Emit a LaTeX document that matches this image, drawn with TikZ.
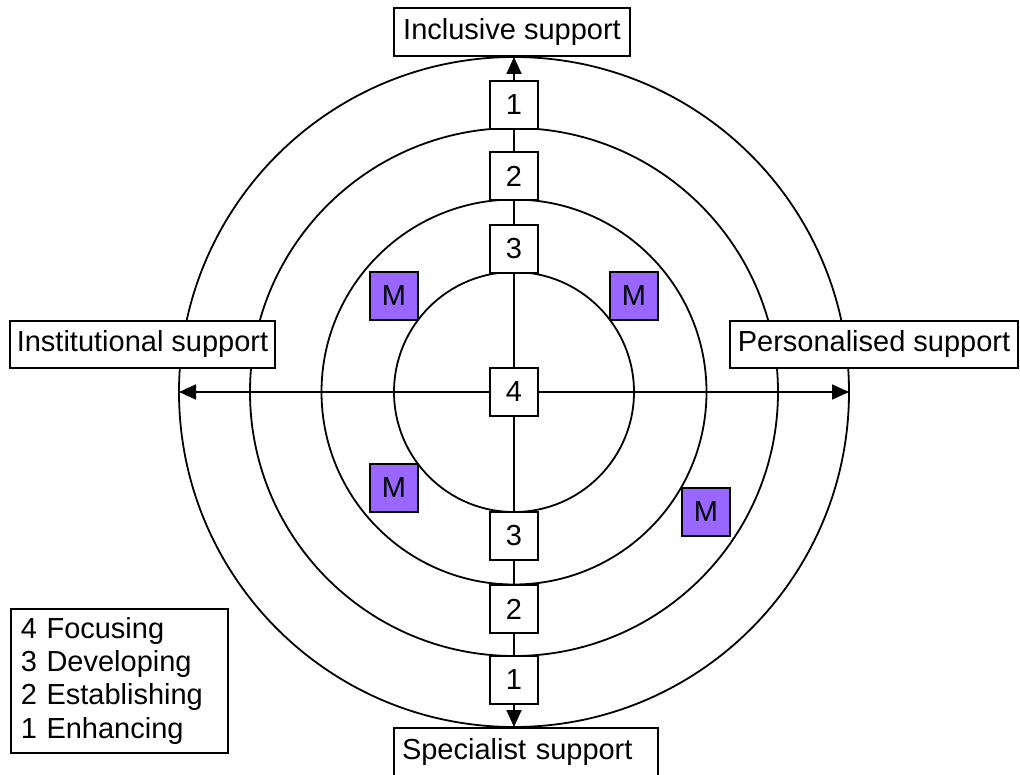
\documentclass[tikz,border=0pt]{standalone}
\usepackage{fontspec}
\setmainfont{Liberation Sans}
\usetikzlibrary{arrows.meta}
\definecolor{mpurple}{HTML}{9966FF}
\begin{document}
\begin{tikzpicture}[x=1pt,y=-1pt,
  ring/.style={draw, circle, line width=1.8pt, inner sep=0pt, outer sep=0pt},
  axisarrow/.style={line width=1.8pt, -{Triangle[length=17pt,width=15pt]}},
  numbox/.style={draw, fill=white, line width=1.5pt, minimum width=48pt, minimum height=48pt, inner sep=0pt, font=\fontsize{29}{33}\selectfont},
  mbox/.style={numbox, fill=mpurple},
  labelbox/.style={draw, fill=white, line width=1.5pt, minimum height=47pt, inner sep=0pt, font=\fontsize{29}{33}\selectfont},
]
\useasboundingbox (0,0) rectangle (1020,775);
% rings
\node[ring, minimum size=670pt] (c1) at (514,392) {};
\node[ring, minimum size=528pt] (c2) at (514,392) {};
\node[ring, minimum size=385pt] (c3) at (514,392) {};
\node[ring, minimum size=240pt] (c4) at (514,392) {};
% axes
\draw[axisarrow] (c1.center) -- (c1.north);
\draw[axisarrow] (c1.center) -- (c1.south);
\draw[axisarrow] (c1.center) -- (c1.west);
\draw[axisarrow] (c1.center) -- (c1.east);
% number boxes
\node[numbox] (n1t) at (514,105) {1};
\node[numbox] (n2t) at (514,176) {2};
\node[numbox] (n3t) at (514,249) {3};
\node[numbox] (n4)  at (514,392) {4};
\node[numbox] (n3b) at (514,536) {3};
\node[numbox] (n2b) at (514,609) {2};
\node[numbox] (n1b) at (514,680) {1};
% M boxes
\node[mbox] (m1) at (394,296) {M};
\node[mbox] (m2) at (634,296) {M};
\node[mbox] (m3) at (394,488) {M};
\node[mbox] (m4) at (706,512) {M};
% axis labels
\node[labelbox, minimum width=236pt, minimum height=48pt] (incl) at (512,32) {Inclusive support};
\node[labelbox, minimum height=48pt, inner xsep=8pt, text width=248pt, align=left] (spec) at (526,752) {Specialist support};
\node[labelbox, minimum width=265pt] (inst) at (142.5,344.5) {Institutional support};
\node[labelbox, minimum width=288pt] (pers) at (874,344.5) {Personalised support};
% legend
\node[draw, fill=white, line width=1.5pt, anchor=north west, inner xsep=10pt, inner ysep=8pt,
      text width=197pt, minimum height=144pt, align=left,
      font=\fontsize{29}{33.3}\selectfont] (legend) at (10,608)
  {4 Focusing\\3 Developing\\2 Establishing\\1 Enhancing};
\end{tikzpicture}
\end{document}
